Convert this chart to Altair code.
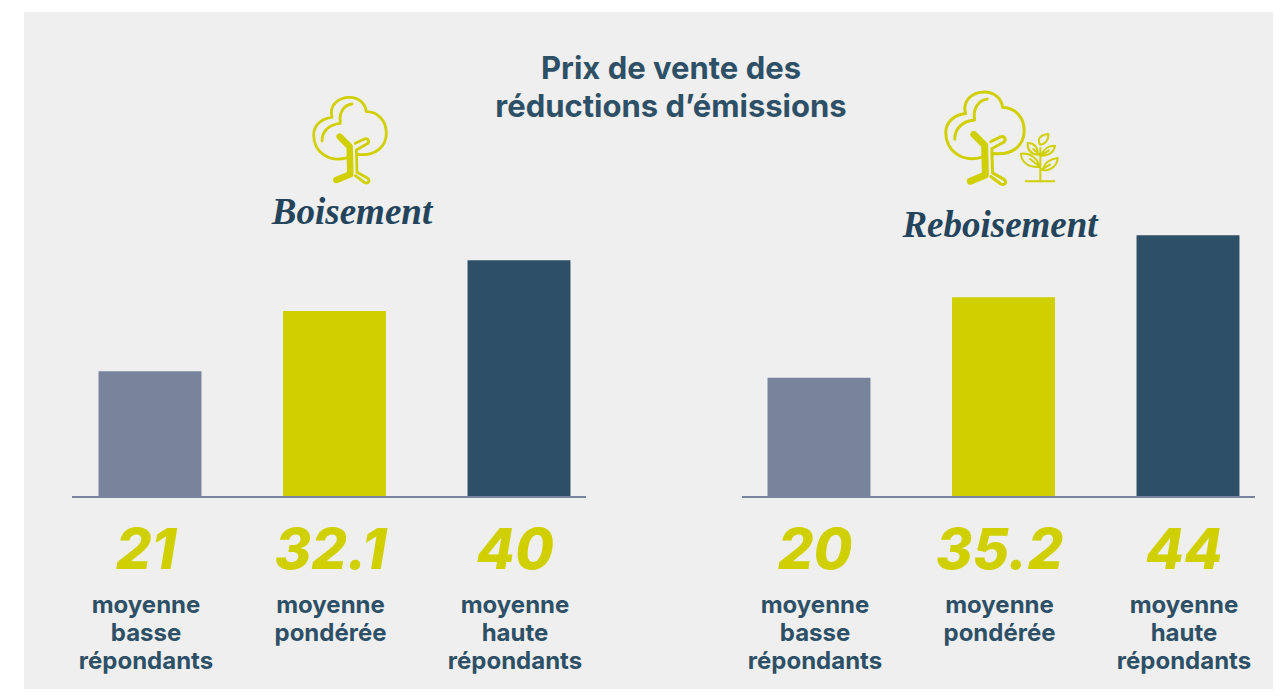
import re
import altair as alt

# ---- data ----
measures = ["basse", "pondérée", "haute"]
boisement_bars = [21.1, 31.2, 39.7]
reboisement_bars = [20.0, 33.5, 43.9]
boisement_labels = ["21", "32.1", "40"]
reboisement_labels = ["20", "35.2", "44"]
captions = ["moyenne\nbasse\nrépondants", "moyenne\npondérée", "moyenne\nhaute\nrépondants"]
title_lines = "Prix de vente des\nréductions d’émissions"

NAVY, SLATE, YELLOW, PANEL = "#2E5067", "#78849C", "#D0D000", "#EFEFEF"
SANS = "Inter"
SCRIPT = "Liberation Serif"

one = alt.Data(values=[{"k": 1}])


def norm(path, cx, cy, zoom=3.0, box=100.0):
    nums = re.split(r"([A-Za-z])", path)
    out = []
    for tok in nums:
        if re.fullmatch(r"[A-Za-z]", tok):
            out.append(tok)
        elif tok.strip():
            v = [float(t) for t in tok.split()]
            pts = []
            for i in range(0, len(v), 2):
                pts.append(f"{(v[i]-cx)/zoom/(box/2):.4f} {(v[i+1]-cy)/zoom/(box/2):.4f}")
            out.append(" ".join(pts))
    return " ".join(out)


CROWN = ("M262 218 C205 235 160 200 160 150 C160 120 185 100 215 97 C205 60 235 37 268 37 "
         "C295 37 315 55 318 80 C350 80 378 105 378 145 C378 185 345 215 292 208 "
         "M185 168 C185 140 205 118 240 115 M240 112 C235 85 250 60 275 57 "
         "M285 175 L312 162 C325 158 330 172 318 178 L288 195 L290 262 L322 280 "
         "C332 288 322 298 312 292 L285 272")
TRUNK = "M238 155 L268 185 L270 268 L228 285"
SAPLING = ("M435 195 C425 175 440 165 460 163 C462 180 450 195 435 195 Z "
           "M428 225 C400 222 397 205 398 190 C415 190 430 200 428 225 Z "
           "M440 228 C445 205 460 198 480 198 C478 215 465 228 440 228 Z "
           "M432 262 C400 265 378 245 378 222 C405 220 430 235 432 262 Z "
           "M445 272 C445 250 465 238 488 235 C488 255 470 272 445 272 Z "
           "M436 302 L436 205 M392 305 L478 305 "
           "M436 262 L405 238 M436 272 L465 255 M436 228 L415 208 M438 228 L462 212")


def icon(path, x, y, scale, width):
    return alt.Chart(one).mark_point(
        shape=path, filled=False, stroke=YELLOW, strokeWidth=width, opacity=1,
        strokeCap="round", strokeJoin="round",
    ).encode(x=alt.value(x), y=alt.value(y), size=alt.value((100 * scale) ** 2))


def group(values, labels, rng):
    rows = [{"m": m, "v": v, "l": l, "c": c} for m, v, l, c in zip(measures, values, labels, captions)]
    d = alt.Data(values=rows)
    xs = alt.Scale(domain=measures, range=rng, paddingInner=0.442, paddingOuter=0.221)
    x = alt.X("m:N", scale=xs, axis=None, sort=measures)
    bars = alt.Chart(d).mark_bar(cornerRadius=0).encode(
        x=x,
        y=alt.Y("v:Q", scale=alt.Scale(domain=[0, 82], range=[489, 0]), axis=None),
        color=alt.Color("m:N", scale=alt.Scale(domain=measures, range=[SLATE, YELLOW, NAVY]), legend=None),
    )
    nums = alt.Chart(d).mark_text(
        font=SANS, fontSize=56, fontWeight=800, fontStyle="italic", color=YELLOW,
        baseline="alphabetic", align="center", dx=-4,
    ).encode(x=x, y=alt.value(561), text="l:N")
    caps = alt.Chart(d).mark_text(
        font=SANS, fontSize=24, fontWeight=700, color=NAVY, lineBreak="\n", lineHeight=28,
        baseline="top", align="center", dx=-4,
    ).encode(x=x, y=alt.value(586), text="c:N")
    return [bars, nums, caps]


panel = alt.Chart(one).mark_rect(color=PANEL).encode(
    x=alt.value(16), x2=alt.value(1265), y=alt.value(4), y2=alt.value(681))
base1 = alt.Chart(one).mark_rule(color=SLATE, strokeWidth=2).encode(
    x=alt.value(64), x2=alt.value(578), y=alt.value(489))
base2 = alt.Chart(one).mark_rule(color=SLATE, strokeWidth=2).encode(
    x=alt.value(734), x2=alt.value(1247), y=alt.value(489))


def text(s, x, y, **kw):
    return alt.Chart(alt.Data(values=[{"t": s}])).mark_text(align="center", **kw).encode(
        x=alt.value(x), y=alt.value(y), text="t:N")


title = text(title_lines, 663, 47, font=SANS, fontSize=31, fontWeight=700, color=NAVY,
             lineBreak="\n", lineHeight=38, baseline="top")
name1 = text("Boisement", 344, 216, font=SCRIPT, fontSize=37, fontWeight=700, fontStyle="italic",
             color="#24445C", baseline="alphabetic")
name2 = text("Reboisement", 992, 229, font=SCRIPT, fontSize=37, fontWeight=700, fontStyle="italic",
             color="#24445C", baseline="alphabetic")

layers = [
    panel,
    *group(boisement_bars, boisement_labels, [49.75, 603.25]),
    *group(reboisement_bars, reboisement_labels, [718.75, 1272.25]),
    base1, base2, title, name1, name2,
    icon(norm(CROWN, 269, 165), 342, 132, 1.0, 2.8),
    icon(norm(TRUNK, 269, 165), 342, 132, 1.0, 6.5),
    icon(norm(CROWN, 269, 165), 977, 130, 1.08, 3.0),
    icon(norm(TRUNK, 269, 165), 977, 130, 1.08, 7.0),
    icon(norm(SAPLING, 435, 235), 1032, 150, 1.0, 2.0),
]

chart = alt.layer(*layers).resolve_scale(x="independent", color="shared").properties(
    width=1265, height=681, padding=0, autosize=alt.AutoSizeParams(type="none"),
).configure_view(stroke=None)

chart.save("out.html", embed_options={"renderer": "svg", "actions": False})
